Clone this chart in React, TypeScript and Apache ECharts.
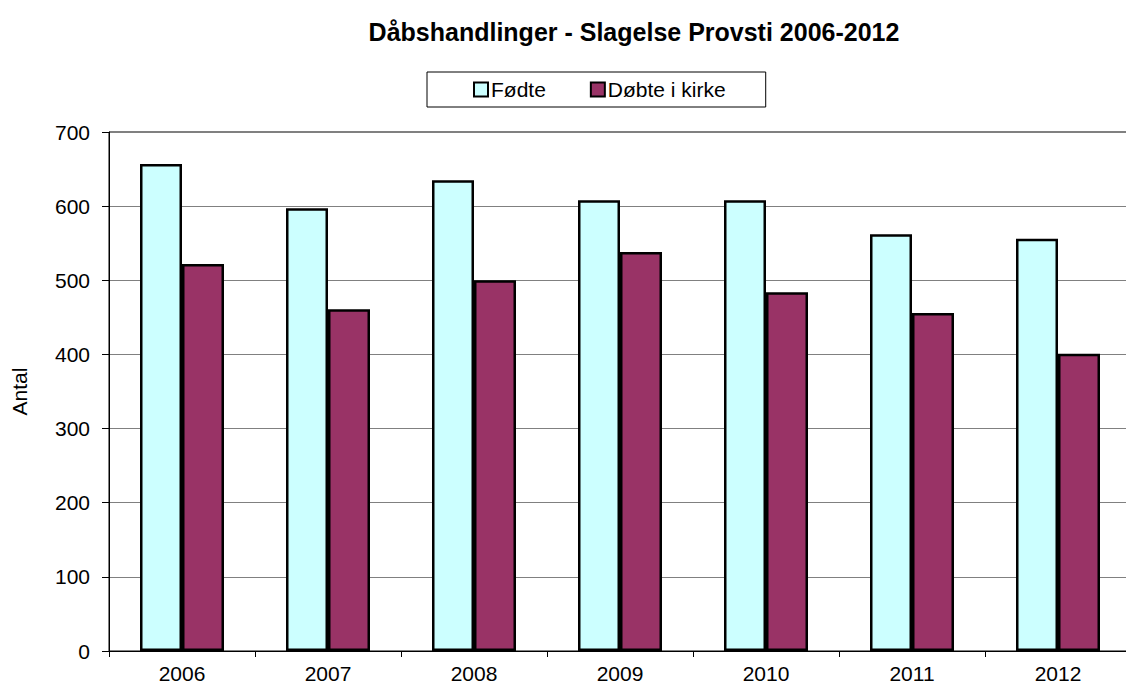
import React, { useEffect, useRef } from "react";
import * as echarts from "echarts";

const years = ["2006", "2007", "2008", "2009", "2010", "2011", "2012"];
const fodte = [657, 597, 635, 608, 608, 562, 556];
const dobte = [522, 461, 500, 538, 484, 456, 401];

export default function App() {
  const ref = useRef<HTMLDivElement>(null);
  useEffect(() => {
    const chart = echarts.init(ref.current!, null, { renderer: "svg" });
    const font = "'Liberation Sans', Arial, sans-serif";
    chart.setOption({
      animation: false,
      backgroundColor: "#fff",
      textStyle: { fontFamily: font },
      title: {
        text: "Dåbshandlinger - Slagelse Provsti 2006-2012",
        left: 629,
        textAlign: "center",
        top: 14,
        textStyle: { fontFamily: font, fontSize: 25, fontWeight: "bold", color: "#000" },
      },
      legend: {
        left: 427,
        top: 72,
        padding: [7, 40, 7, 46],
        itemGap: 44,
        itemWidth: 14,
        itemHeight: 14,
        icon: "rect",
        borderColor: "#000",
        borderWidth: 1,
        textStyle: { fontFamily: font, fontSize: 21, color: "#000", padding: [0, 0, 0, -2] },
        data: [
          { name: "Fødte", itemStyle: { borderColor: "#000", borderWidth: 2 } },
          { name: "Døbte i kirke", itemStyle: { borderColor: "#000", borderWidth: 2 } },
        ],
      },
      grid: {
        left: 109,
        right: -5,
        top: 132,
        bottom: 33,
        outerBoundsMode: "none",
        containLabel: false,
        show: true,
        borderColor: "#000",
        borderWidth: 1,
      },
      xAxis: {
        type: "category",
        data: years,
        axisLine: { lineStyle: { color: "#000", width: 1 } },
        axisTick: { show: true, length: 6, lineStyle: { color: "#000" } },
        axisLabel: { color: "#000", fontSize: 21, fontFamily: font, margin: 12 },
      },
      yAxis: {
        type: "value",
        min: 0,
        max: 700,
        interval: 100,
        name: "Antal",
        nameLocation: "middle",
        nameRotate: 90,
        nameGap: 79,
        nameTextStyle: { color: "#000", fontSize: 21, fontFamily: font },
        axisLine: { show: true, lineStyle: { color: "#000", width: 1 } },
        axisTick: { show: true, length: 7, lineStyle: { color: "#000" } },
        axisLabel: { color: "#000", fontSize: 21, fontFamily: font, margin: 19 },
        splitLine: { show: true, lineStyle: { color: "#808080", width: 1 } },
      },
      series: [
        {
          name: "Fødte",
          type: "bar",
          data: fodte,
          barWidth: 42,
          barGap: "0%",
          itemStyle: { color: "#CCFFFF", borderColor: "#000", borderWidth: 2.5 },
        },
        {
          name: "Døbte i kirke",
          type: "bar",
          data: dobte,
          barWidth: 42,
          barGap: "0%",
          itemStyle: { color: "#993366", borderColor: "#000", borderWidth: 2.5 },
        },
      ],
    });
    return () => chart.dispose();
  }, []);
  return (
    <div
      ref={ref}
      style={{ position: "fixed", left: 0, top: 0, width: 1126, height: 684, overflow: "hidden" }}
    />
  );
}
